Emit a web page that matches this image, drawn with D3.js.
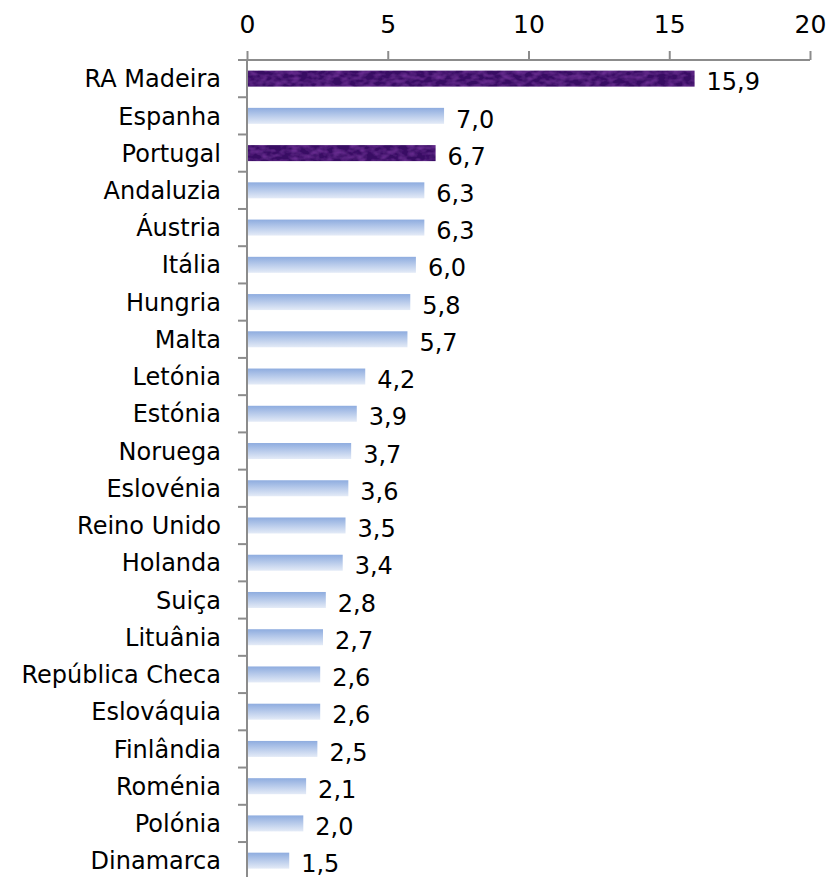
<!DOCTYPE html>
<html>
<head>
<meta charset="utf-8">
<script src="https://cdn.jsdelivr.net/npm/d3@7"></script>
<style>
  body { margin: 0; background: #fff; }
  text { font-family: "DejaVu Sans", Verdana, sans-serif; fill: #000; }
</style>
</head>
<body>
<div id="chart"></div>
<script>
var categories = ['RA Madeira', 'Espanha', 'Portugal', 'Andaluzia', 'Áustria', 'Itália', 'Hungria', 'Malta',
  'Letónia', 'Estónia', 'Noruega', 'Eslovénia', 'Reino Unido', 'Holanda', 'Suiça', 'Lituânia',
  'República Checa', 'Eslováquia', 'Finlândia', 'Roménia', 'Polónia', 'Dinamarca'];
var values = [15.9, 7.0, 6.7, 6.3, 6.3, 6.0, 5.8, 5.7, 4.2, 3.9, 3.7, 3.6, 3.5, 3.4, 2.8, 2.7, 2.6, 2.6, 2.5, 2.1, 2.0, 1.5];
var highlighted = ['RA Madeira', 'Portugal'];
var xTicks = [0, 5, 10, 15, 20];

var WIDTH = 832, HEIGHT = 877;
var mLeft = 247, mRight = 810, mTop = 60, step = 37.24, barH = 16;

var data = categories.map(function(c, i){ return { name: c, value: values[i] }; });

var svg = d3.select("#chart").append("svg")
  .attr("width", WIDTH)
  .attr("height", HEIGHT);

var defs = svg.append("defs");
var grad = defs.append("linearGradient").attr("id", "blueGrad")
  .attr("x1", 0).attr("y1", 0).attr("x2", 0).attr("y2", 1);
grad.append("stop").attr("offset", "0%").attr("stop-color", "#8eacdf");
grad.append("stop").attr("offset", "100%").attr("stop-color", "#e4ebf7");

// rough purple texture
var filt = defs.append("filter").attr("id", "purpleTex").attr("x", 0).attr("y", 0).attr("width", 1).attr("height", 1);
filt.append("feTurbulence").attr("type", "fractalNoise").attr("baseFrequency", "0.12 0.2")
  .attr("numOctaves", 2).attr("seed", 5).attr("result", "noise");
filt.append("feColorMatrix").attr("in", "noise").attr("type", "matrix")
  .attr("values", "0 0 0 0 0.33  0 0 0 0 0.07  0 0 0 0 0.58  0.7 0 0 0 -0.25").attr("result", "spots");
filt.append("feComposite").attr("in", "spots").attr("in2", "SourceGraphic").attr("operator", "atop");

var x = d3.scaleLinear().domain([0, 20]).range([mLeft, mRight]);
var y = d3.scaleBand().domain(categories).range([mTop, mTop + step * categories.length]).padding(0);

// bars
svg.append("g").selectAll("rect")
  .data(data)
  .enter().append("rect")
  .attr("x", x(0) + 1)
  .attr("y", function(d){ return y(d.name) + (step - barH) / 2; })
  .attr("width", function(d){ return x(d.value) - x(0) - 1; })
  .attr("height", barH)
  .attr("fill", function(d){ return highlighted.indexOf(d.name) >= 0 ? "#380a64" : "url(#blueGrad)"; })
  .attr("filter", function(d){ return highlighted.indexOf(d.name) >= 0 ? "url(#purpleTex)" : null; });

// top axis
var xAxis = d3.axisTop(x).tickValues(xTicks).tickSize(9).tickPadding(18).tickSizeOuter(0);
var gx = svg.append("g").attr("transform", "translate(0," + mTop + ")").call(xAxis);
gx.select(".domain").remove();
gx.append("line").attr("x1", mLeft - 9).attr("x2", mRight).attr("y1", 0).attr("y2", 0);
gx.selectAll("line").attr("stroke", "#8c8c8c").attr("stroke-width", 2);
gx.selectAll("text").attr("font-size", 25).attr("fill", "#000")
  .style("font-family", "DejaVu Sans, sans-serif");

// left axis with ticks between categories
var gy = svg.append("g");
gy.append("line").attr("x1", mLeft).attr("x2", mLeft).attr("y1", mTop).attr("y2", HEIGHT)
  .attr("stroke", "#8c8c8c").attr("stroke-width", 2);
gy.selectAll("line.tk")
  .data(categories.slice(1))
  .enter().append("line").attr("class", "tk")
  .attr("x1", mLeft - 9).attr("x2", mLeft)
  .attr("y1", function(d){ return y(d); }).attr("y2", function(d){ return y(d); })
  .attr("stroke", "#8c8c8c").attr("stroke-width", 2);
gy.selectAll("text")
  .data(categories)
  .enter().append("text")
  .attr("x", mLeft - 26)
  .attr("y", function(d){ return y(d) + step / 2; })
  .attr("dy", "0.36em")
  .attr("text-anchor", "end")
  .attr("font-size", 24)
  .text(function(d){ return d; });

// value labels
var fmt = function(v){ return v.toFixed(1).replace(".", ","); };
svg.append("g").selectAll("text")
  .data(data)
  .enter().append("text")
  .attr("x", function(d){ return x(d.value) + 12; })
  .attr("y", function(d){ return y(d.name) + step / 2 + 3; })
  .attr("dy", "0.36em")
  .attr("font-size", 24)
  .text(function(d){ return fmt(d.value); });
</script>
</body>
</html>
